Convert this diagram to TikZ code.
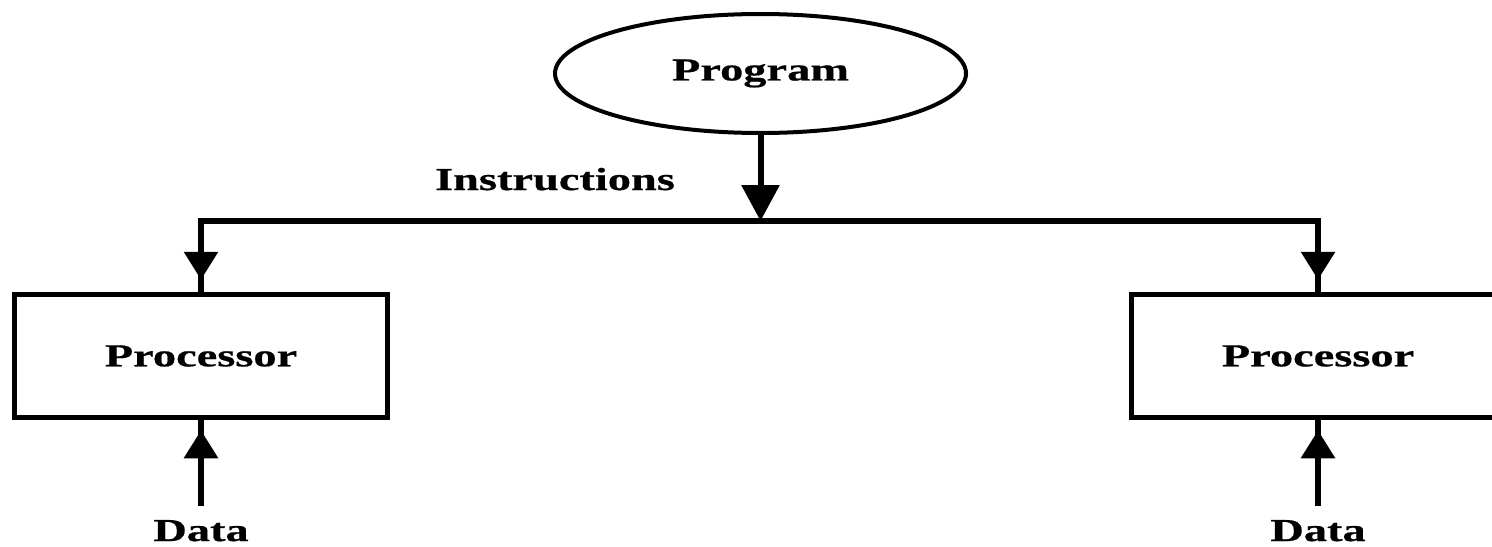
\documentclass[tikz,border=0pt]{standalone}
\usepackage{fontspec}
\newfontfamily\lblfont{Liberation Serif}[FakeStretch=1.45,FakeBold=0.6]
\usetikzlibrary{arrows.meta,shapes.geometric,decorations.markings}
\begin{document}
\begin{tikzpicture}[x=0.5pt,y=-0.5pt,
  lbl/.style={font=\lblfont\bfseries\fontsize{16pt}{19pt}\selectfont, inner sep=0pt},
  procbox/.style={draw, line width=2.75pt, minimum width=186.5pt, minimum height=61.5pt, inner sep=0pt, lbl},
  progell/.style={draw, ellipse, line width=2pt, minimum width=205.5pt, minimum height=59.5pt, inner sep=0pt, lbl},
  wire/.style={line width=3pt},
  tipmark/.style={postaction={decorate}, decoration={markings, mark=at position #1 with {\arrow{Triangle[length=14pt,width=16.5pt]}}}},
]
\useasboundingbox (0,0) rectangle (1492,546);

% source of the instruction stream
\node[progell] (prog) at (760.5,73.5) {Program};

% the two processing elements
\node[procbox] (proc1) at (201,356) {Processor};
\node[procbox] (proc2) at (1318,356) {Processor};

% labels
\node[lbl, anchor=base] (instr) at (555,190) {Instructions};
\node[lbl, anchor=base, outer sep=7pt] (data1) at (201,541) {Data};
\node[lbl, anchor=base, outer sep=7pt] (data2) at (1318,541) {Data};

% instruction bus
\coordinate (busc) at (760.5,221);
\draw[wire, line cap=rect] (proc1.north |- busc) -- (proc2.north |- busc);
\draw[wire, -{Triangle[length=18pt,width=18.5pt]}] (prog.south) -- (busc);
\draw[wire, tipmark=-6pt] (proc1.north |- busc) -- (proc1.north);
\draw[wire, tipmark=-6pt] (proc2.north |- busc) -- (proc2.north);

% data inputs
\draw[wire, tipmark=-5pt] (data1.north) -- (proc1.south);
\draw[wire, tipmark=-5pt] (data2.north) -- (proc2.south);
\end{tikzpicture}
\end{document}
